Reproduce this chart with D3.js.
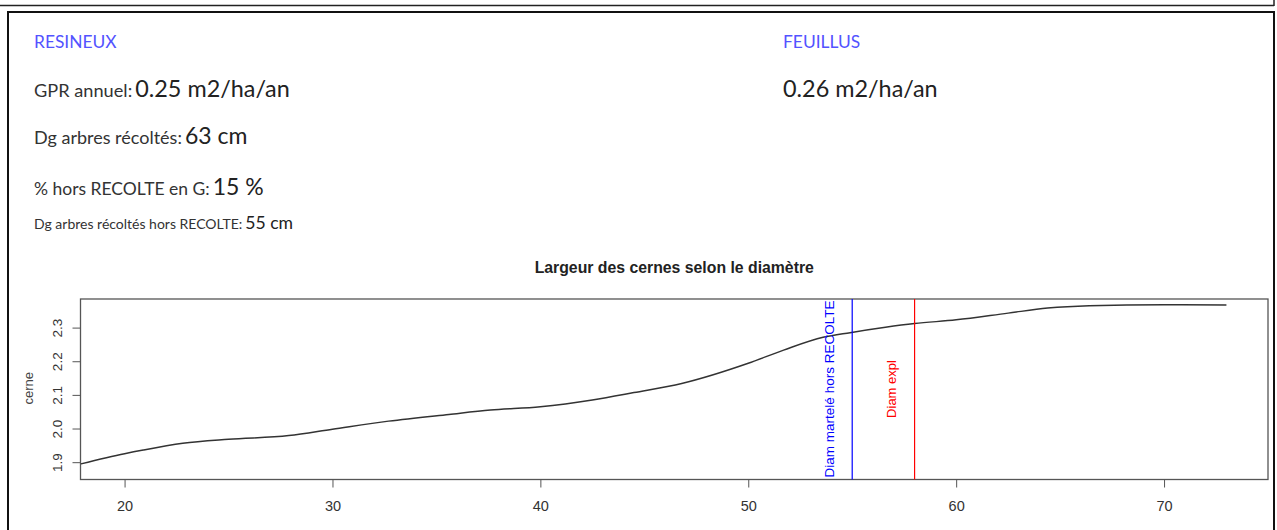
<!DOCTYPE html>
<html><head><meta charset="utf-8">
<script src="https://cdn.jsdelivr.net/npm/d3@7"></script>
<style>body{margin:0;background:#fff}svg{display:block}</style>
</head><body>
<script>
// ---- data ----
const diam  = [17.9, 20, 20.9, 22.8, 25, 27.9, 30, 32.7, 35.6, 37.6, 40, 42.5, 44.5, 46.8, 50, 51.7, 53.6, 54.9, 56.6, 58, 60, 62.5, 64.4, 66.4, 70, 73];
const cerne = [1.895, 1.925, 1.936, 1.956, 1.968, 1.979, 1.998, 2.022, 2.042, 2.055, 2.065, 2.085, 2.107, 2.134, 2.194, 2.233, 2.271, 2.285, 2.301, 2.312, 2.323, 2.343, 2.358, 2.365, 2.368, 2.367];
const xTicks = [20, 30, 40, 50, 60, 70];
const yTicks = [1.9, 2.0, 2.1, 2.2, 2.3];
const vLineValues = [55, 58];
const vLineLabels = ["Diam martelé hors RECOLTE", "Diam expl"];
const headerLabels = ["GPR annuel:", "Dg arbres récoltés:", "% hors RECOLTE en G:", "Dg arbres récoltés hors RECOLTE:"];
const headerValues = ["0.25 m2/ha/an", "63 cm", "15 %", "55 cm"];
const groupTitles = ["RESINEUX", "FEUILLUS"];
const feuillusValue = "0.26 m2/ha/an";
const chartTitle = "Largeur des cernes selon le diamètre";

const W = 1277, H = 530;
const svg = d3.select("body").append("svg").attr("width", W).attr("height", H);

// frames
svg.append("line").attr("x1",0).attr("x2",1274).attr("y1",5.5).attr("y2",5.5).attr("stroke","#222").attr("stroke-width",1.5);
svg.append("line").attr("x1",1274).attr("x2",1274).attr("y1",0).attr("y2",6).attr("stroke","#222").attr("stroke-width",1.5);
svg.append("rect").attr("x",8).attr("y",12).attr("width",1266).attr("height",540).attr("fill","none").attr("stroke","#111").attr("stroke-width",2);

// header text
const hf = "Lato, 'Source Sans Pro', 'Noto Sans', sans-serif";
const blue = "#5353ff";
groupTitles.forEach((t,i)=>{
  svg.append("text").attr("x", i===0?34:783).attr("y",48).attr("font-family",hf).attr("font-size",17.4).attr("fill",blue).text(t);
});
const lineY = [97, 144, 195, 229];
const labSize = [18.2, 18, 17.5, 14];
const valSize = [23.4, 23, 23, 17.6];
headerLabels.forEach((l,i)=>{
  const t = svg.append("text").attr("x",34).attr("y",lineY[i]).attr("font-family",hf).attr("fill","#333");
  t.append("tspan").attr("font-size",labSize[i]).text(l);
  t.append("tspan").attr("font-size",valSize[i]).attr("dx",3).attr("fill","#222").text(headerValues[i]);
});
svg.append("text").attr("x",783).attr("y",97).attr("font-family",hf).attr("font-size",23.4).attr("fill","#222").text(feuillusValue);

// chart
const pl = 80.5, pr = 1268, pt = 299, pb = 479.5;
const x = d3.scaleLinear().domain([17.88, 75.0]).range([pl, pr]);
const y = d3.scaleLinear().domain([1.8485, 2.385]).range([pb, pt]);
const rf = "'Liberation Sans', Arial, Helvetica, sans-serif";

svg.append("text").attr("x",(pl+pr)/2).attr("y",273).attr("text-anchor","middle")
  .attr("font-family",rf).attr("font-weight","bold").attr("font-size",15.8).attr("fill","#222").text(chartTitle);

svg.append("rect").attr("x",pl).attr("y",pt).attr("width",pr-pl).attr("height",pb-pt)
  .attr("fill","none").attr("stroke","#555").attr("stroke-width",1.3);

// x axis
const xa = svg.append("g").attr("transform",`translate(0,${pb})`)
  .call(d3.axisBottom(x).tickValues(xTicks).tickFormat(d3.format("d")).tickSize(8).tickPadding(13));
xa.select(".domain").remove();
xa.selectAll("line").attr("stroke","#555");
xa.selectAll("text").attr("font-family",rf).attr("font-size",14.5).attr("fill","#333");

// y axis
const ya = svg.append("g").attr("transform",`translate(${pl},0)`)
  .call(d3.axisLeft(y).tickValues(yTicks).tickFormat(d3.format(".1f")).tickSize(8).tickPadding(0));
ya.select(".domain").remove();
ya.selectAll("line").attr("stroke","#555");
ya.selectAll("text").attr("font-family",rf).attr("font-size",13.5).attr("fill","#333")
  .attr("text-anchor","middle").attr("dy",0)
  .attr("transform", d=>`translate(-23,0) rotate(-90)`).attr("x",0).attr("y",0)
  .attr("dominant-baseline","central");

svg.append("text").attr("transform",`translate(28,${(pt+pb)/2-1}) rotate(-90)`)
  .attr("text-anchor","middle").attr("dominant-baseline","central")
  .attr("font-family",rf).attr("font-size",13).attr("fill","#444").text("cerne");

// x label (mostly clipped at bottom, as in the reference)
svg.append("text").attr("x",(pl+pr)/2).attr("y",541).attr("text-anchor","middle")
  .attr("font-family",rf).attr("font-size",13).attr("fill","#666").text("diam");

// curve
const pts = diam.map((d,i)=>[d,cerne[i]]);
svg.append("path").datum(pts)
  .attr("d", d3.line().x(d=>x(d[0])).y(d=>y(d[1])).curve(d3.curveMonotoneX))
  .attr("fill","none").attr("stroke","#333").attr("stroke-width",1.5);

// vertical lines
const vColors = ["#0000ff", "#ff0000"];
vLineValues.forEach((v,i)=>{
  svg.append("line").attr("x1",x(v)).attr("x2",x(v)).attr("y1",pt).attr("y2",pb)
    .attr("stroke",vColors[i]).attr("stroke-width",1.2);
});
svg.append("text").attr("transform",`translate(${x(vLineValues[0])-23},389) rotate(-90)`)
  .attr("text-anchor","middle").attr("dominant-baseline","central")
  .attr("font-family",rf).attr("font-size",13.5).attr("fill","#0000ff").text(vLineLabels[0]);
svg.append("text").attr("transform",`translate(${x(vLineValues[1])-23},389) rotate(-90)`)
  .attr("text-anchor","middle").attr("dominant-baseline","central")
  .attr("font-family",rf).attr("font-size",13).attr("fill","#ff0000").text(vLineLabels[1]);
</script>
</body></html>
